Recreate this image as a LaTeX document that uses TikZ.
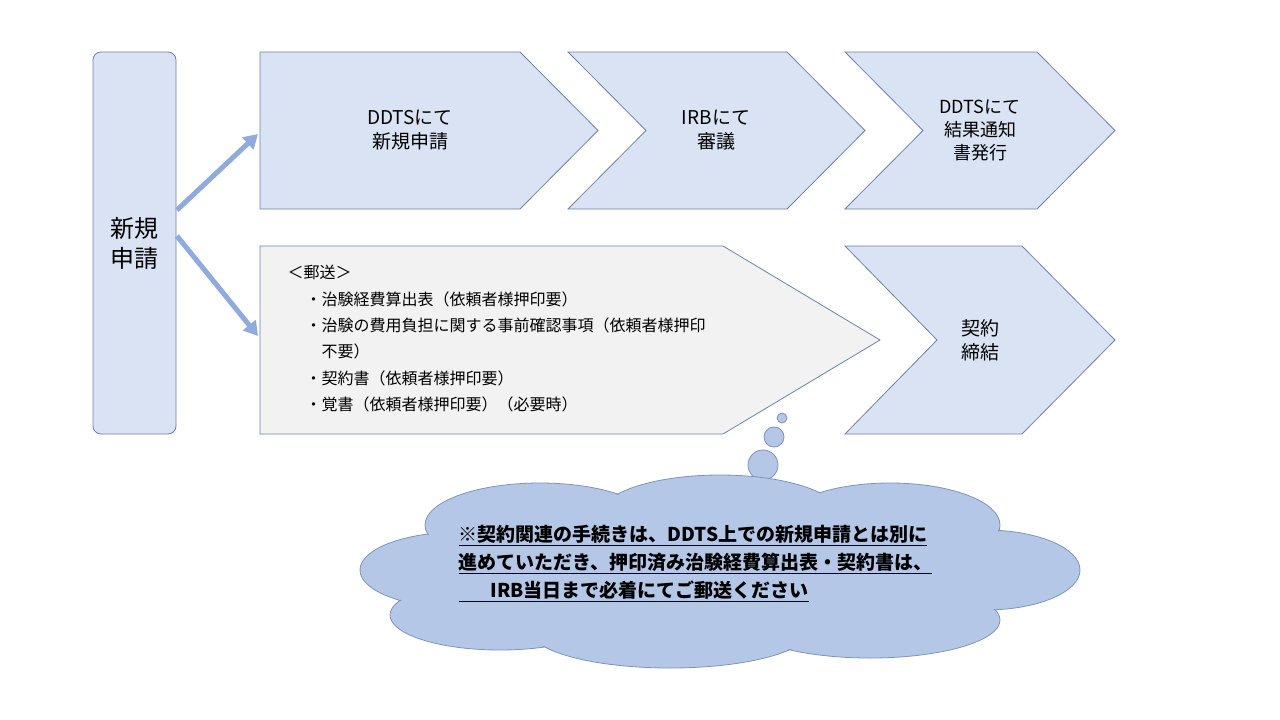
\documentclass[tikz,border=0pt]{standalone}
\usepackage{fontspec}
\setmainfont{Noto Sans CJK JP}
\begin{document}
\begin{tikzpicture}[x=1pt,y=-1pt,
  blk/.style={fill=boxfill,draw=boxline,line width=0.8pt},
  lbl/.style={align=center,font=\fontsize{19}{24}\selectfont},
  arr/.style={draw=arrowc,line width=5pt,-{Triangle[length=14pt,width=16pt]}},
  cl/.style={fill=cloudfill,draw=cloudline,line width=0.8pt}]
\definecolor{boxfill}{HTML}{DAE3F3}
\definecolor{boxline}{HTML}{6E82A8}
\definecolor{arrowc}{HTML}{8FAADC}
\definecolor{cloudfill}{HTML}{B4C7E7}
\definecolor{cloudline}{HTML}{7D93BA}
\definecolor{grayfill}{HTML}{F2F2F2}
\useasboundingbox[fill=white] (0,0) rectangle (1280,720);
\usetikzlibrary{arrows.meta}
% left box
\draw[blk,rounded corners=8pt] (93,52) rectangle (176,434);
\node[lbl,font=\fontsize{24}{30}\selectfont] (nk) at (134.5,243) {新規\\申請};
% top chevrons
\draw[blk] (260,52) -- (520,52) -- (598,130.5) -- (520,209) -- (260,209) -- cycle;
\node[lbl] (c1) at (410,130) {DDTSにて\\新規申請};
\draw[blk] (568,52) -- (787,52) -- (865,130.5) -- (787,209) -- (568,209) -- (646,130.5) -- cycle;
\node[lbl] (c2) at (716,130) {IRBにて\\審議};
\draw[blk] (845,52) -- (1037,52) -- (1115,130.5) -- (1037,209) -- (845,209) -- (923,130.5) -- cycle;
\node[lbl,font=\fontsize{18}{23}\selectfont] (c3) at (980,130) {DDTSにて\\結果通知\\書発行};
% bottom
\draw[blk,fill=grayfill] (260,246) -- (723,246) -- (880,340) -- (723,434) -- (260,434) -- cycle;
\node[anchor=north west,align=left,font=\fontsize{16}{26.3}\selectfont] (lst) at (284,262) {＜郵送＞\\
\hspace{18pt}・治験経費算出表（依頼者様押印要）\\
\hspace{18pt}・治験の費用負担に関する事前確認事項（依頼者様押印\\
\hspace{34pt}不要）\\
\hspace{18pt}・契約書（依頼者様押印要）\\
\hspace{18pt}・覚書（依頼者様押印要）（必要時）};
\draw[blk] (845,246) -- (1022,246) -- (1115,340) -- (1022,434) -- (845,434) -- (937,340) -- cycle;
\node[lbl] (c4) at (980,340) {契約\\締結};
% arrows
\coordinate (a1s) at (177,210); \coordinate (a1e) at (258,134);
\coordinate (a2s) at (177,236); \coordinate (a2e) at (258,336);
\draw[arr] (a1s) -- (a1e);
\draw[arr] (a2s) -- (a2e);
% thought bubbles
\draw[cl] (782,418) circle (5);
\draw[cl] (774,437) circle (10);
\draw[cl] (763,465) circle (15);
% cloud
\def\cloudparts{
 (540,525) ellipse (115 and 42)
 (720,515) ellipse (120 and 40)
 (890,525) ellipse (110 and 42)
 (985,570) ellipse (95 and 40)
 (460,570) ellipse (100 and 38)
 (500,615) ellipse (110 and 35)
 (670,630) ellipse (140 and 38)
 (870,620) ellipse (130 and 38)
 (720,575) ellipse (300 and 60)}
\foreach \p in {1}{\draw[cl] \cloudparts;}
\fill[cloudfill] (540,525) ellipse (114 and 41) (720,515) ellipse (119 and 39) (890,525) ellipse (109 and 41) (985,570) ellipse (94 and 39) (460,570) ellipse (99 and 37) (500,615) ellipse (109 and 34) (670,630) ellipse (139 and 37) (870,620) ellipse (129 and 37) (720,575) ellipse (299 and 59);
\node[anchor=north west,align=left,font=\bfseries\fontsize{19}{28}\selectfont] (ct) at (455,522) {\underline{※契約関連の手続きは、DDTS上での新規申請とは別に}\\
\underline{進めていただき、押印済み治験経費算出表・契約書は、}\\
\underline{\hspace{32pt}IRB当日まで必着にてご郵送ください}};
\end{tikzpicture}
\end{document}
